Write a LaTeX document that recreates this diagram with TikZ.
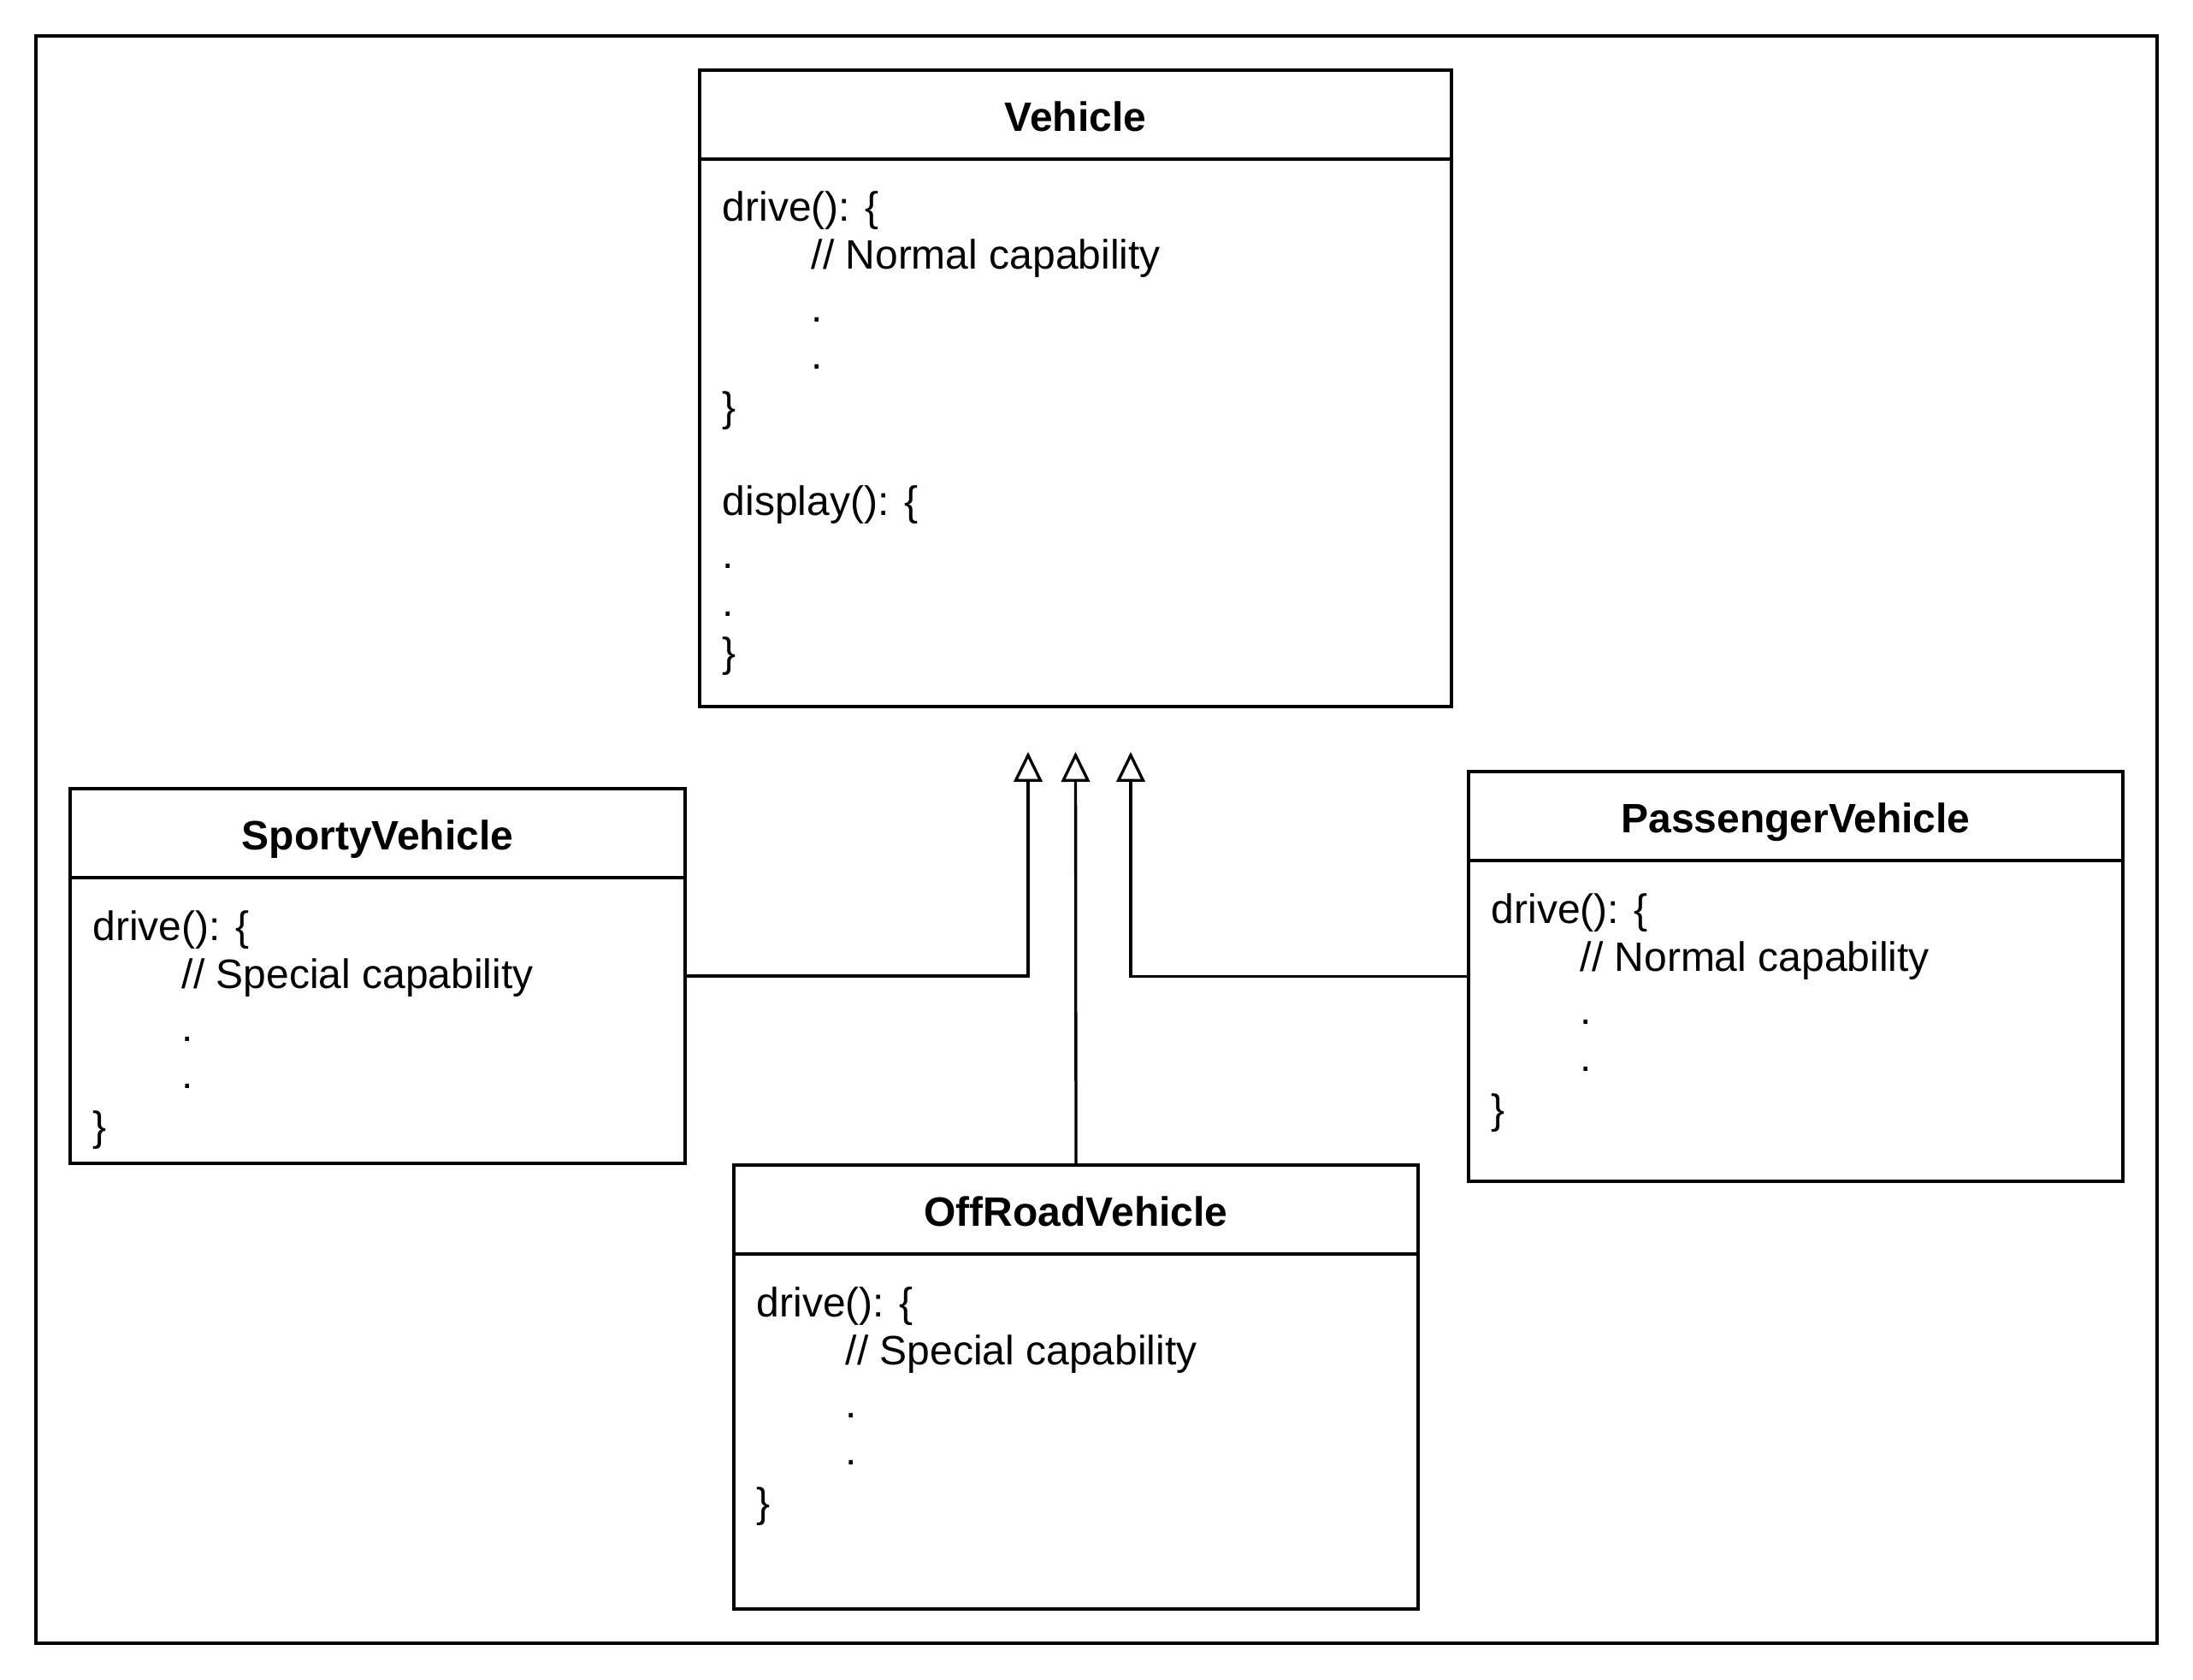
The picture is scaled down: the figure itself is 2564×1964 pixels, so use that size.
\documentclass[tikz,border=0pt]{standalone}
\usepackage{fontspec}
\setmainfont{Liberation Sans}
\usetikzlibrary{arrows.meta, calc}
\newcommand{\codefont}{\fontsize{14.4}{17}\selectfont}
\newcommand{\titlefont}{\fontsize{14.4}{17}\selectfont\bfseries}
\tikzset{
  classHead/.style={draw, line width=1pt, anchor=north west, inner sep=0pt, outer sep=0pt,
    minimum height=31.2pt, font=\titlefont, text height=11.6pt, text depth=0pt},
  classBody/.style={draw, line width=1pt, anchor=north west, inner sep=0pt, outer sep=0pt},
  codeLine/.style={anchor=base west, inner sep=0pt, font=\codefont},
  extends/.style={-{Triangle[open, length=10.5pt, width=10pt]}, line width=1pt}
}
\begin{document}
\begin{tikzpicture}[x=0.3pt, y=-0.3pt]
\useasboundingbox (0,0) rectangle (2564,1964);
% Frame
\draw[line width=1pt] (42,42) rectangle (2522,1921);

% Vehicle
\node[classHead, minimum width=263.7pt] (vehicleHead) at (818,82) {Vehicle};
\node[classBody, minimum width=263.7pt, minimum height=192pt] (vehicleBody) at (vehicleHead.south west) {};
\foreach \dx/\dy/\txt in {26/73/{drive(): \{}, 130/129/{// Normal capability}, 130/191/., 130/246/.,
    26/307/\}, 26/417/{display(): \{}, 26/479/., 26/535/., 26/594/\}}
  \node[codeLine] (vehicle\dy) at ([shift={(\dx,\dy)}]vehicleBody.north west) {\txt};

% SportyVehicle
\node[classHead, minimum width=215.7pt] (sportyHead) at (82,922) {SportyVehicle};
\node[classBody, minimum width=215.7pt, minimum height=100.2pt] (sportyBody) at (sportyHead.south west) {};
\foreach \dx/\dy/\txt in {26/73/{drive(): \{}, 130/129/{// Special capability}, 130/191/., 130/246/., 26/307/\}}
  \node[codeLine] (sporty\dy) at ([shift={(\dx,\dy)}]sportyBody.north west) {\txt};

% PassengerVehicle
\node[classHead, minimum width=229.5pt] (passengerHead) at (1717,902) {PassengerVehicle};
\node[classBody, minimum width=229.5pt, minimum height=112.5pt] (passengerBody) at (passengerHead.south west) {};
\foreach \dx/\dy/\txt in {26/73/{drive(): \{}, 130/129/{// Normal capability}, 130/191/., 130/246/., 26/307/\}}
  \node[codeLine] (passenger\dy) at ([shift={(\dx,\dy)}]passengerBody.north west) {\txt};

% OffRoadVehicle
\node[classHead, minimum width=240pt] (offroadHead) at (858,1362) {OffRoadVehicle};
\node[classBody, minimum width=240pt, minimum height=124.5pt] (offroadBody) at (offroadHead.south west) {};
\foreach \dx/\dy/\txt in {26/73/{drive(): \{}, 130/129/{// Special capability}, 130/191/., 130/246/., 26/307/\}}
  \node[codeLine] (offroad\dy) at ([shift={(\dx,\dy)}]offroadBody.north west) {\txt};

% Inheritance
\coordinate (tipL) at ([shift={(-55.5,53)}]vehicleBody.south);
\coordinate (tipM) at ([shift={(0,53)}]vehicleBody.south);
\coordinate (tipR) at ([shift={(64.5,53)}]vehicleBody.south);
\draw[extends] (offroadHead.north) -- (tipM);
\draw[extends] ($(sportyHead.north east)!0.5!(sportyBody.south east)$) -| (tipL);
\draw[extends] ($(passengerHead.north west)!0.5!(passengerBody.south west)$) -| (tipR);
\end{tikzpicture}
\end{document}
